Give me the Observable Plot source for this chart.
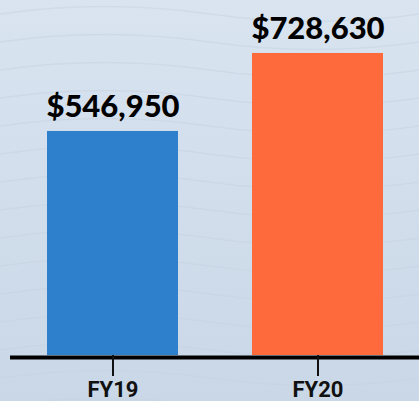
<!DOCTYPE html>
<html>
<head>
<meta charset="utf-8">
<script src="https://cdn.jsdelivr.net/npm/d3@7"></script>
<script src="https://cdn.jsdelivr.net/npm/@observablehq/plot@0.6"></script>
<style>
  html, body { margin: 0; padding: 0; }
  body {
    width: 419px; height: 401px; overflow: hidden;
    background-color: #d2deeb;
    background-image:
      url("data:image/svg+xml,%3Csvg xmlns='http://www.w3.org/2000/svg' width='420' height='28'%3E%3Cpath d='M0 14 C70 4 140 4 210 14 S350 24 420 14' fill='none' stroke='%23c6d2e0' stroke-opacity='0.5' stroke-width='1.5'/%3E%3C/svg%3E"),
      linear-gradient(#d9e4f0, #c9d7e7);
    background-size: 420px 28px, 100% 100%;
  }
  #chart svg { display: block; }
</style>
</head>
<body>
<div id="chart"></div>
<script>
const categories = ["FY19", "FY20"];
const values = [546950, 728630];
const colors = ["#2e80cc", "#fe6a3c"];
const valueLabels = ["$546,950", "$728,630"];

const data = categories.map((c, i) => ({ cat: c, value: values[i], color: colors[i], label: valueLabels[i] }));
const yMin = 25150;

const chart = Plot.plot({
  width: 419,
  height: 401,
  marginTop: 0,
  marginBottom: 46,
  marginLeft: 46,
  marginRight: 35,
  style: { background: "transparent", overflow: "visible" },
  x: { domain: categories, paddingInner: 0.359, paddingOuter: 0, label: null },
  y: { domain: [yMin, 852000], clamp: true, axis: null },
  marks: [
    Plot.barY(data, { x: "cat", y1: yMin, y2: "value", fill: "color" }),
    Plot.ruleY([yMin], { stroke: "#000", strokeWidth: 4, dy: 2, insetLeft: -36, insetRight: -35 }),
    Plot.axisX({ tickSize: 21, tickPadding: 5, strokeWidth: 2, stroke: "#111", fontSize: 22, fontWeight: "bold", fontFamily: "Roboto", fill: "#111", label: null }),
    Plot.text(data, { x: "cat", y: "value", text: "label", dy: -14, lineAnchor: "bottom", fontSize: 31, fontWeight: 900, fontFamily: "Lato", fill: "#000" })
  ]
});
document.getElementById("chart").append(chart);
</script>
</body>
</html>
